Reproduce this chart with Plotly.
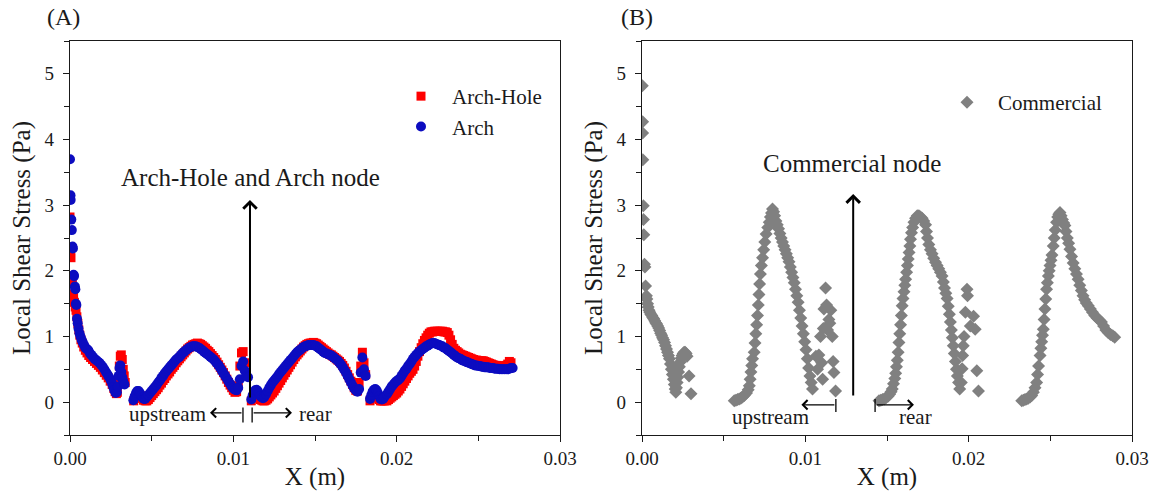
import plotly.graph_objects as go

# ---------------- Panel A data (X in m, shear stress in Pa) ----------------
arch_hole_seg1 = [(0.00000,2.82),(0.00003,2.27),(0.00006,2.20),(0.00010,1.85),(0.00014,1.80),(0.00018,1.65),(0.00022,1.60),
    (0.00027,1.52),(0.00032,1.45),(0.00037,1.40),(0.00042,1.30),(0.00048,1.20),(0.00054,1.10),(0.00060,1.02),(0.00067,0.95),
    (0.00075,0.90),(0.00084,0.84),(0.00094,0.79),(0.00104,0.75),(0.00115,0.71),(0.00126,0.68),(0.00138,0.65),(0.00150,0.62),
    (0.00162,0.59),(0.00174,0.56),(0.00186,0.53),(0.00198,0.49),(0.00210,0.45),(0.00222,0.41),(0.00234,0.37),(0.00246,0.32),
    (0.00258,0.27),(0.00268,0.21),(0.00276,0.16),(0.00284,0.13),(0.00290,0.15),(0.00296,0.30),(0.00302,0.55),(0.00308,0.70),
    (0.00314,0.72),(0.00320,0.65),(0.00326,0.50),(0.00332,0.40),(0.00338,0.30)]
arch_hole_seg2 = [(0.00390,0.02),(0.00400,0.06),(0.00410,0.10),(0.00420,0.12),(0.00430,0.10),(0.00440,0.06),(0.00450,0.03),
    (0.00460,0.02),(0.00470,0.02),(0.00480,0.04),(0.00490,0.07),(0.00500,0.10),(0.00510,0.13),(0.00520,0.16),(0.00530,0.19),
    (0.00540,0.22),(0.00550,0.26),(0.00560,0.29),(0.00570,0.33),(0.00580,0.36),(0.00590,0.40),(0.00600,0.43),(0.00610,0.46),
    (0.00620,0.50),(0.00630,0.53),(0.00640,0.56),(0.00650,0.60),(0.00660,0.63),(0.00670,0.66),(0.00680,0.69),(0.00690,0.72),
    (0.00700,0.75),(0.00710,0.78),(0.00720,0.81),(0.00730,0.83),(0.00740,0.85),(0.00750,0.87),(0.00760,0.88),(0.00770,0.89),
    (0.00780,0.90),(0.00790,0.89),(0.00800,0.88),(0.00810,0.86),(0.00820,0.84),(0.00830,0.82),(0.00840,0.79),(0.00850,0.77),
    (0.00860,0.74),(0.00870,0.71),(0.00880,0.68),(0.00890,0.65),(0.00900,0.61),(0.00910,0.57),(0.00920,0.53),(0.00930,0.49),
    (0.00940,0.45),(0.00950,0.40),(0.00960,0.35),(0.00970,0.30),(0.00980,0.26),(0.00990,0.22),(0.01000,0.18),(0.01010,0.15),
    (0.01020,0.16),(0.01030,0.25),(0.01040,0.55),(0.01050,0.75),(0.01060,0.77),(0.01070,0.60),(0.01080,0.45)]
arch_hole_seg3 = [(0.01110,0.02),(0.01118,0.06),(0.01126,0.10),(0.01134,0.12),(0.01142,0.12),(0.01150,0.10),(0.01158,0.07),
    (0.01166,0.04),(0.01174,0.03),(0.01182,0.02),(0.01190,0.02),(0.01200,0.03),(0.01210,0.05),(0.01220,0.08),(0.01230,0.11),
    (0.01240,0.14),(0.01250,0.17),(0.01260,0.21),(0.01270,0.25),(0.01280,0.29),(0.01290,0.33),(0.01300,0.37),(0.01310,0.41),
    (0.01320,0.45),(0.01330,0.49),(0.01340,0.53),(0.01350,0.57),(0.01360,0.61),(0.01370,0.65),(0.01380,0.69),(0.01390,0.72),
    (0.01400,0.75),(0.01410,0.78),(0.01420,0.81),(0.01430,0.84),(0.01440,0.86),(0.01450,0.88),(0.01460,0.89),(0.01470,0.90),
    (0.01480,0.90),(0.01490,0.91),(0.01500,0.90),(0.01510,0.89),(0.01520,0.87),(0.01530,0.85),(0.01540,0.83),(0.01550,0.81),
    (0.01560,0.79),(0.01570,0.77),(0.01580,0.75),(0.01590,0.73),(0.01600,0.72),(0.01610,0.70),(0.01620,0.68),(0.01630,0.66),
    (0.01640,0.64),(0.01650,0.62),(0.01660,0.59),(0.01670,0.56),(0.01680,0.52),(0.01690,0.47),(0.01700,0.42),(0.01710,0.37),
    (0.01720,0.32),(0.01730,0.27),(0.01740,0.22),(0.01750,0.18),(0.01760,0.17),(0.01770,0.30),(0.01780,0.55),(0.01790,0.76),
    (0.01800,0.60),(0.01810,0.42)]
arch_hole_seg4 = [(0.01837,0.02),(0.01845,0.06),(0.01853,0.10),(0.01861,0.12),(0.01869,0.12),(0.01877,0.10),(0.01885,0.07),
    (0.01893,0.04),(0.01901,0.02),(0.01909,0.02),(0.01917,0.02),(0.01925,0.02),(0.01940,0.02),(0.01950,0.04),(0.01960,0.06),
    (0.01970,0.08),(0.01980,0.10),(0.01990,0.12),(0.02000,0.14),(0.02010,0.17),(0.02020,0.20),(0.02030,0.24),(0.02040,0.28),
    (0.02050,0.32),(0.02060,0.36),(0.02070,0.40),(0.02080,0.44),(0.02090,0.47),(0.02100,0.50),(0.02110,0.55),(0.02120,0.62),
    (0.02130,0.70),(0.02140,0.77),(0.02150,0.83),(0.02160,0.89),(0.02170,0.94),(0.02180,0.98),(0.02190,1.02),(0.02200,1.05),
    (0.02210,1.07),(0.02220,1.07),(0.02230,1.08),(0.02240,1.08),(0.02250,1.08),(0.02260,1.08),(0.02270,1.08),(0.02280,1.08),
    (0.02290,1.07),(0.02300,1.07),(0.02310,1.06),(0.02320,1.02),(0.02330,0.95),(0.02340,0.88),(0.02350,0.82),(0.02360,0.79),
    (0.02370,0.77),(0.02380,0.75),(0.02390,0.73),(0.02400,0.72),(0.02410,0.71),(0.02420,0.70),(0.02430,0.69),(0.02440,0.68),
    (0.02450,0.67),(0.02460,0.66),(0.02470,0.65),(0.02480,0.64),(0.02490,0.64),(0.02500,0.63),(0.02510,0.63),(0.02520,0.63),
    (0.02530,0.63),(0.02540,0.62),(0.02550,0.61),(0.02560,0.60),(0.02570,0.59),(0.02580,0.58),(0.02590,0.57),(0.02600,0.56),
    (0.02610,0.56),(0.02620,0.55),(0.02630,0.55),(0.02640,0.55),(0.02650,0.55),(0.02660,0.55),(0.02670,0.56),(0.02680,0.58),
    (0.02690,0.62),(0.02700,0.60)]

arch_seg1 = [(0.00000,3.70),(0.00003,3.15),(0.00004,3.08),(0.00008,2.78),(0.00011,2.62),(0.00015,2.37),(0.00018,2.34),
    (0.00022,1.94),(0.00025,1.92),(0.00030,1.76),(0.00033,1.72),(0.00036,1.50),(0.00039,1.48),(0.00043,1.27),(0.00047,1.20),
    (0.00052,1.12),(0.00058,1.05),(0.00064,1.00),(0.00071,0.95),(0.00078,0.91),(0.00086,0.87),(0.00094,0.83),(0.00103,0.81),
    (0.00112,0.79),(0.00121,0.75),(0.00130,0.72),(0.00140,0.69),(0.00150,0.66),(0.00160,0.64),(0.00170,0.62),(0.00180,0.60),
    (0.00190,0.57),(0.00200,0.54),(0.00210,0.50),(0.00220,0.46),(0.00230,0.42),(0.00240,0.38),(0.00250,0.33),(0.00258,0.28),
    (0.00265,0.23),(0.00272,0.18),(0.00280,0.14),(0.00287,0.15),(0.00293,0.24),(0.00298,0.40),(0.00303,0.52),(0.00308,0.56),
    (0.00314,0.46),(0.00320,0.38),(0.00326,0.32),(0.00334,0.27)]
arch_seg2 = [(0.00388,0.03),(0.00396,0.09),(0.00404,0.14),(0.00412,0.17),(0.00420,0.17),(0.00428,0.14),(0.00436,0.10),
    (0.00444,0.07),(0.00452,0.05),(0.00460,0.05),(0.00470,0.08),(0.00480,0.11),(0.00490,0.14),(0.00500,0.17),(0.00510,0.20),
    (0.00520,0.23),(0.00530,0.26),(0.00540,0.30),(0.00550,0.33),(0.00560,0.37),(0.00570,0.40),(0.00580,0.44),(0.00590,0.47),
    (0.00600,0.50),(0.00610,0.53),(0.00620,0.56),(0.00630,0.59),(0.00640,0.62),(0.00650,0.65),(0.00660,0.67),(0.00670,0.69),
    (0.00680,0.72),(0.00690,0.75),(0.00700,0.77),(0.00710,0.79),(0.00720,0.81),(0.00730,0.83),(0.00740,0.84),(0.00750,0.85),
    (0.00760,0.85),(0.00770,0.85),(0.00780,0.84),(0.00790,0.83),(0.00800,0.81),(0.00810,0.79),(0.00820,0.77),(0.00830,0.75),
    (0.00840,0.73),(0.00850,0.71),(0.00860,0.69),(0.00870,0.67),(0.00880,0.65),(0.00890,0.62),(0.00900,0.59),(0.00910,0.56),
    (0.00920,0.52),(0.00930,0.48),(0.00940,0.44),(0.00950,0.40),(0.00960,0.36),(0.00970,0.32),(0.00980,0.28),(0.00990,0.24),
    (0.01000,0.21),(0.01010,0.19),(0.01020,0.18),(0.01030,0.22),(0.01040,0.35),(0.01050,0.55),(0.01060,0.62),(0.01070,0.48),
    (0.01080,0.40),(0.01090,0.38)]
arch_seg3 = [(0.01110,0.04),(0.01118,0.10),(0.01126,0.15),(0.01134,0.18),(0.01142,0.19),(0.01150,0.17),(0.01158,0.13),
    (0.01166,0.09),(0.01174,0.07),(0.01182,0.06),(0.01190,0.08),(0.01200,0.12),(0.01210,0.17),(0.01220,0.22),(0.01230,0.26),
    (0.01240,0.30),(0.01250,0.33),(0.01260,0.36),(0.01270,0.39),(0.01280,0.43),(0.01290,0.46),(0.01300,0.49),(0.01310,0.52),
    (0.01320,0.55),(0.01330,0.58),(0.01340,0.61),(0.01350,0.64),(0.01360,0.67),(0.01370,0.70),(0.01380,0.73),(0.01390,0.76),
    (0.01400,0.78),(0.01410,0.80),(0.01420,0.82),(0.01430,0.84),(0.01440,0.85),(0.01450,0.86),(0.01460,0.87),(0.01470,0.87),
    (0.01480,0.87),(0.01490,0.87),(0.01500,0.86),(0.01510,0.85),(0.01520,0.83),(0.01530,0.81),(0.01540,0.79),(0.01550,0.77),
    (0.01560,0.75),(0.01570,0.74),(0.01580,0.73),(0.01590,0.72),(0.01600,0.71),(0.01610,0.69),(0.01620,0.67),(0.01630,0.65),
    (0.01640,0.63),(0.01650,0.60),(0.01660,0.57),(0.01670,0.53),(0.01680,0.49),(0.01690,0.45),(0.01700,0.40),(0.01710,0.35),
    (0.01720,0.30),(0.01730,0.25),(0.01740,0.21),(0.01750,0.18),(0.01760,0.16),(0.01770,0.20),(0.01780,0.45),(0.01790,0.68),
    (0.01800,0.50),(0.01810,0.40)]
arch_seg4 = [(0.01837,0.05),(0.01845,0.11),(0.01853,0.16),(0.01861,0.19),(0.01869,0.20),(0.01877,0.18),(0.01885,0.14),
    (0.01893,0.09),(0.01901,0.05),(0.01909,0.04),(0.01917,0.05),(0.01925,0.08),(0.01940,0.12),(0.01950,0.16),(0.01960,0.20),
    (0.01970,0.24),(0.01980,0.27),(0.01990,0.30),(0.02000,0.32),(0.02010,0.34),(0.02020,0.36),(0.02030,0.40),(0.02040,0.44),
    (0.02050,0.48),(0.02060,0.51),(0.02070,0.55),(0.02080,0.58),(0.02090,0.62),(0.02100,0.66),(0.02110,0.69),(0.02120,0.72),
    (0.02130,0.75),(0.02140,0.77),(0.02150,0.79),(0.02160,0.81),(0.02170,0.83),(0.02180,0.85),(0.02190,0.86),(0.02200,0.88),
    (0.02210,0.89),(0.02220,0.90),(0.02230,0.90),(0.02240,0.89),(0.02250,0.88),(0.02260,0.87),(0.02270,0.86),(0.02280,0.85),
    (0.02290,0.83),(0.02300,0.82),(0.02310,0.80),(0.02320,0.78),(0.02330,0.76),(0.02340,0.74),(0.02350,0.72),(0.02360,0.70),
    (0.02370,0.68),(0.02380,0.67),(0.02390,0.66),(0.02400,0.64),(0.02410,0.63),(0.02420,0.62),(0.02430,0.61),(0.02440,0.60),
    (0.02450,0.59),(0.02460,0.58),(0.02470,0.57),(0.02480,0.56),(0.02490,0.56),(0.02500,0.55),(0.02510,0.55),(0.02520,0.54),
    (0.02530,0.54),(0.02540,0.53),(0.02550,0.53),(0.02560,0.53),(0.02570,0.52),(0.02580,0.52),(0.02590,0.52),(0.02600,0.51),
    (0.02610,0.51),(0.02620,0.51),(0.02630,0.50),(0.02640,0.50),(0.02650,0.50),(0.02660,0.50),(0.02670,0.50),(0.02680,0.50),
    (0.02690,0.51),(0.02700,0.52),(0.02710,0.52)]

# ---------------- Panel B data ----------------
commercial_seg1 = [(0.00002,4.82),(0.00004,4.27),(0.00004,4.10),(0.00005,3.69),(0.00008,2.99),(0.00009,2.78),(0.00011,2.55),
    (0.00015,2.10),(0.00018,2.06),(0.00022,1.77),(0.00027,1.62),(0.00030,1.57),(0.00034,1.50),(0.00038,1.45),(0.00043,1.40),
    (0.00048,1.37),(0.00054,1.34),(0.00060,1.32),(0.00066,1.29),(0.00072,1.27),(0.00078,1.24),(0.00084,1.21),(0.00090,1.19),
    (0.00096,1.16),(0.00102,1.13),(0.00108,1.09),(0.00114,1.05),(0.00120,1.02),(0.00126,0.98),(0.00132,0.95),(0.00138,0.91),
    (0.00144,0.86),(0.00150,0.81),(0.00156,0.76),(0.00162,0.71),(0.00168,0.66),(0.00174,0.58),(0.00180,0.50),(0.00186,0.42),
    (0.00192,0.35),(0.00198,0.27),(0.00203,0.20),(0.00207,0.15),(0.00211,0.22),(0.00215,0.30),(0.00219,0.38),(0.00224,0.46),
    (0.00229,0.54),(0.00234,0.61),(0.00240,0.67),(0.00246,0.71),(0.00252,0.74),(0.00258,0.76),(0.00264,0.76),(0.00270,0.74),
    (0.00276,0.70),(0.00288,0.40),(0.00300,0.13)]
commercial_seg2 = [(0.00565,0.02),(0.00575,0.03),(0.00585,0.04),(0.00595,0.05),(0.00605,0.06),(0.00615,0.08),(0.00626,0.10),
    (0.00640,0.14),(0.00650,0.19),(0.00657,0.25),(0.00662,0.35),(0.00667,0.46),(0.00672,0.56),(0.00677,0.66),(0.00687,0.76),
    (0.00692,0.90),(0.00697,1.04),(0.00702,1.18),(0.00707,1.32),(0.00712,1.48),(0.00716,1.64),(0.00720,1.80),(0.00725,1.95),
    (0.00731,2.08),(0.00738,2.20),(0.00745,2.32),(0.00752,2.44),(0.00760,2.56),(0.00770,2.66),(0.00779,2.74),(0.00786,2.82),
    (0.00793,2.88),(0.00799,2.94),(0.00806,2.90),(0.00812,2.84),(0.00820,2.76),(0.00828,2.70),(0.00836,2.64),(0.00844,2.57),
    (0.00852,2.50),(0.00860,2.44),(0.00868,2.38),(0.00876,2.32),(0.00884,2.26),(0.00892,2.20),(0.00900,2.14),(0.00908,2.06),
    (0.00916,1.98),(0.00924,1.90),(0.00932,1.82),(0.00940,1.72),(0.00948,1.62),(0.00956,1.52),(0.00964,1.40),(0.00972,1.28),
    (0.00980,1.16),(0.00988,1.04),(0.00996,0.92),(0.01004,0.80),(0.01012,0.66),(0.01020,0.52),(0.01028,0.40),(0.01036,0.30),
    (0.01044,0.20)]
commercial_seg2_tail = [(0.01065,0.70),(0.01075,0.50),(0.01083,0.72),(0.01093,1.00),(0.01100,0.60),(0.01106,0.35),
    (0.01110,1.12),(0.01114,1.42),(0.01124,1.74),(0.01130,1.48),(0.01136,1.10),(0.01144,1.26),(0.01150,1.20),(0.01156,1.40),
    (0.01165,1.00),(0.01170,0.62),(0.01175,0.45),(0.01185,0.17)]
commercial_seg3 = [(0.01451,0.02),(0.01462,0.03),(0.01473,0.04),(0.01484,0.05),(0.01495,0.07),(0.01506,0.09),(0.01516,0.12),
    (0.01525,0.16),(0.01532,0.20),(0.01540,0.28),(0.01548,0.36),(0.01553,0.44),(0.01558,0.54),(0.01563,0.64),(0.01568,0.76),
    (0.01573,0.91),(0.01578,1.04),(0.01583,1.18),(0.01588,1.32),(0.01593,1.47),(0.01598,1.58),(0.01604,1.68),(0.01609,1.78),
    (0.01614,1.87),(0.01620,1.98),(0.01625,2.08),(0.01630,2.18),(0.01635,2.28),(0.01640,2.38),(0.01644,2.48),(0.01650,2.58),
    (0.01657,2.66),(0.01665,2.74),(0.01675,2.80),(0.01685,2.84),(0.01695,2.84),(0.01705,2.82),(0.01715,2.80),(0.01725,2.76),
    (0.01736,2.70),(0.01742,2.60),(0.01748,2.50),(0.01756,2.40),(0.01766,2.32),(0.01776,2.26),(0.01786,2.19),(0.01797,2.13),
    (0.01807,2.08),(0.01817,2.03),(0.01827,1.98),(0.01837,1.92),(0.01845,1.83),(0.01852,1.74),(0.01860,1.66),(0.01868,1.58),
    (0.01875,1.46),(0.01882,1.34),(0.01888,1.22),(0.01894,1.10),(0.01900,0.98),(0.01906,0.86),(0.01912,0.74),(0.01919,0.62),
    (0.01925,0.50),(0.01931,0.40),(0.01938,0.30),(0.01945,0.20)]
commercial_seg3_tail = [(0.01955,0.30),(0.01960,0.51),(0.01963,0.71),(0.01967,0.86),(0.01972,1.00),(0.01980,1.37),
    (0.01990,1.72),(0.01993,1.62),(0.02010,1.16),(0.02030,1.31),(0.02040,1.11),(0.02050,0.48),(0.02060,0.17)]
commercial_seg4 = [(0.02325,0.02),(0.02335,0.03),(0.02345,0.04),(0.02355,0.05),(0.02365,0.06),(0.02376,0.08),(0.02386,0.10),
    (0.02396,0.15),(0.02406,0.22),(0.02416,0.30),(0.02422,0.42),(0.02428,0.55),(0.02437,0.71),(0.02442,0.82),(0.02447,0.92),
    (0.02452,1.02),(0.02457,1.11),(0.02462,1.26),(0.02467,1.42),(0.02472,1.57),(0.02477,1.72),(0.02482,1.82),(0.02488,1.92),
    (0.02493,2.00),(0.02498,2.08),(0.02504,2.16),(0.02510,2.24),(0.02518,2.38),(0.02524,2.50),(0.02530,2.62),(0.02538,2.74),
    (0.02545,2.82),(0.02552,2.86),(0.02559,2.89),(0.02566,2.84),(0.02574,2.78),(0.02582,2.73),(0.02589,2.69),(0.02596,2.60),
    (0.02604,2.50),(0.02612,2.42),(0.02620,2.33),(0.02630,2.22),(0.02640,2.12),(0.02650,2.03),(0.02660,1.95),(0.02670,1.87),
    (0.02680,1.78),(0.02690,1.70),(0.02700,1.62),(0.02710,1.56),(0.02720,1.51),(0.02732,1.47),(0.02745,1.42),(0.02758,1.37),
    (0.02772,1.32),(0.02786,1.28),(0.02800,1.25),(0.02813,1.22),(0.02826,1.16),(0.02840,1.10),(0.02854,1.06),(0.02868,1.03),
    (0.02882,1.01),(0.02894,0.99)]

x_tick_vals = [0.0, 0.01, 0.02, 0.03]
x_tick_text = ["0.00", "0.01", "0.02", "0.03"]
x_minor_vals = [0.005, 0.015, 0.025]
y_tick_vals = [0, 1, 2, 3, 4, 5]
y_minor_vals = [-0.5, 0.5, 1.5, 2.5, 3.5, 4.5, 5.5]


def unzip(*segs):
    xs, ys = [], []
    for s in segs:
        for a, b in s:
            xs.append(a)
            ys.append(b)
    return xs, ys


ah_x, ah_y = unzip(arch_hole_seg1, arch_hole_seg2, arch_hole_seg3, arch_hole_seg4)
ar_x, ar_y = unzip(arch_seg1, arch_seg2, arch_seg3, arch_seg4)
co_x, co_y = unzip(commercial_seg1, commercial_seg2, commercial_seg2_tail, commercial_seg3,
                   commercial_seg3_tail, commercial_seg4)

FONT = "Liberation Serif, Times New Roman, serif"
TXT = "#1a1a1a"
W, H = 1156, 491

fig = go.Figure()
fig.add_trace(go.Scatter(x=ah_x, y=ah_y, mode="markers", name="Arch-Hole",
                         marker=dict(symbol="square", size=9, color="#FF0000"),
                         xaxis="x", yaxis="y", legend="legend"))
fig.add_trace(go.Scatter(x=ar_x, y=ar_y, mode="markers", name="Arch",
                         marker=dict(symbol="circle", size=10, color="#0C0CC0"),
                         xaxis="x", yaxis="y", legend="legend"))
fig.add_trace(go.Scatter(x=co_x, y=co_y, mode="markers", name="Commercial",
                         marker=dict(symbol="diamond", size=10, color="#808080"),
                         xaxis="x2", yaxis="y2", legend="legend2"))


def xaxis(domain, anchor):
    return dict(domain=domain, anchor=anchor, range=[0, 0.03], tickmode="array", automargin=False,
                tickvals=x_tick_vals, ticktext=x_tick_text,
                minor=dict(tickmode="array", tickvals=x_minor_vals, ticks="outside", ticklen=5,
                           tickwidth=1.2, tickcolor=TXT),
                showline=True, mirror=True, linecolor=TXT, linewidth=1.3,
                ticks="outside", ticklen=6, tickwidth=1.2, tickcolor=TXT,
                showgrid=False, zeroline=False,
                tickfont=dict(family=FONT, size=19, color=TXT),
                title=dict(text="X (m)", font=dict(family=FONT, size=25, color=TXT), standoff=5))


def yaxis(domain, anchor):
    return dict(domain=domain, anchor=anchor, range=[-0.5, 5.5], tickmode="array", automargin=False,
                tickvals=y_tick_vals, ticklabelstandoff=5,
                minor=dict(tickmode="array", tickvals=y_minor_vals, ticks="outside", ticklen=5,
                           tickwidth=1.2, tickcolor=TXT),
                showline=True, mirror=True, linecolor=TXT, linewidth=1.3,
                ticks="outside", ticklen=6, tickwidth=1.2, tickcolor=TXT,
                showgrid=False, zeroline=False,
                tickfont=dict(family=FONT, size=19, color=TXT),
                title=dict(text="Local Shear Stress (Pa)", font=dict(family=FONT, size=25, color=TXT),
                           standoff=6))


ydom = [1 - 435 / H, 1 - 41 / H]
fig.update_layout(
    width=W, height=H, margin=dict(l=0, r=0, t=0, b=0, autoexpand=False),
    paper_bgcolor="white", plot_bgcolor="white",
    xaxis=xaxis([70 / W, 560 / W], "y"),
    yaxis=yaxis(ydom, "x"),
    xaxis2=xaxis([642 / W, 1132 / W], "y2"),
    yaxis2=yaxis(ydom, "x2"),
    legend=dict(x=390 / W, y=1 - 76 / H, xanchor="left", yanchor="top", bgcolor="rgba(0,0,0,0)",
                font=dict(family=FONT, size=21, color=TXT), itemwidth=52),
    legend2=dict(x=936 / W, y=1 - 82 / H, xanchor="left", yanchor="top", bgcolor="rgba(0,0,0,0)",
                 font=dict(family=FONT, size=21, color=TXT), itemwidth=52),
    font=dict(family=FONT, color=TXT),
)

anns = []
anns.append(dict(text="(A)", x=63 / W, y=1 - 17 / H, xref="paper", yref="paper", showarrow=False,
                 xanchor="center", yanchor="middle", font=dict(family=FONT, size=24, color=TXT)))
anns.append(dict(text="(B)", x=637 / W, y=1 - 17 / H, xref="paper", yref="paper", showarrow=False,
                 xanchor="center", yanchor="middle", font=dict(family=FONT, size=24, color=TXT)))
anns.append(dict(text="Arch-Hole and Arch node", x=0.01108, y=3.42, xref="x", yref="y", showarrow=False,
                 font=dict(family=FONT, size=25, color=TXT)))
anns.append(dict(text="Commercial node", x=0.01287, y=3.63, xref="x2", yref="y2", showarrow=False,
                 font=dict(family=FONT, size=25, color=TXT)))
anns.append(dict(text="", x=0.01102, y=3.08, ax=0.01102, ay=0.05, xref="x", yref="y", axref="x", ayref="y",
                 showarrow=True, arrowhead=4, arrowsize=1.3, arrowwidth=2, arrowcolor="black"))
anns.append(dict(text="", x=0.01293, y=3.17, ax=0.01293, ay=0.08, xref="x2", yref="y2", axref="x2", ayref="y2",
                 showarrow=True, arrowhead=4, arrowsize=1.3, arrowwidth=2, arrowcolor="black"))
anns.append(dict(text="", x=0.00857, y=-0.163, ax=0.01059, ay=-0.163, xref="x", yref="y", axref="x", ayref="y",
                 showarrow=True, arrowhead=4, arrowsize=1.4, arrowwidth=1.3, arrowcolor="black"))
anns.append(dict(text="", x=0.01359, y=-0.163, ax=0.01115, ay=-0.163, xref="x", yref="y", axref="x", ayref="y",
                 showarrow=True, arrowhead=4, arrowsize=1.4, arrowwidth=1.3, arrowcolor="black"))
anns.append(dict(text="upstream", x=0.00594, y=-0.18, xref="x", yref="y", showarrow=False,
                 font=dict(family=FONT, size=21, color=TXT)))
anns.append(dict(text="rear", x=0.01506, y=-0.18, xref="x", yref="y", showarrow=False,
                 font=dict(family=FONT, size=21, color=TXT)))
anns.append(dict(text="", x=0.00976, y=-0.04, ax=0.01187, ay=-0.04, xref="x2", yref="y2", axref="x2", ayref="y2",
                 showarrow=True, arrowhead=4, arrowsize=1.4, arrowwidth=1.3, arrowcolor="black"))
anns.append(dict(text="", x=0.01665, y=-0.04, ax=0.01427, ay=-0.04, xref="x2", yref="y2", axref="x2", ayref="y2",
                 showarrow=True, arrowhead=4, arrowsize=1.4, arrowwidth=1.3, arrowcolor="black"))
anns.append(dict(text="upstream", x=0.00786, y=-0.23, xref="x2", yref="y2", showarrow=False,
                 font=dict(family=FONT, size=21, color=TXT)))
anns.append(dict(text="rear", x=0.01677, y=-0.23, xref="x2", yref="y2", showarrow=False,
                 font=dict(family=FONT, size=21, color=TXT)))
fig.update_layout(annotations=anns)

shapes = [
    dict(type="line", x0=0.01059, x1=0.01059, y0=-0.08, y1=-0.31, xref="x", yref="y",
         line=dict(color="black", width=1.3)),
    dict(type="line", x0=0.01115, x1=0.01115, y0=-0.08, y1=-0.31, xref="x", yref="y",
         line=dict(color="black", width=1.3)),
    dict(type="line", x0=0.01187, x1=0.01187, y0=0.05, y1=-0.15, xref="x2", yref="y2",
         line=dict(color="black", width=1.3)),
    dict(type="line", x0=0.01427, x1=0.01427, y0=0.05, y1=-0.15, xref="x2", yref="y2",
         line=dict(color="black", width=1.3)),
]
fig.update_layout(shapes=shapes)

fig.write_html("out.html")
